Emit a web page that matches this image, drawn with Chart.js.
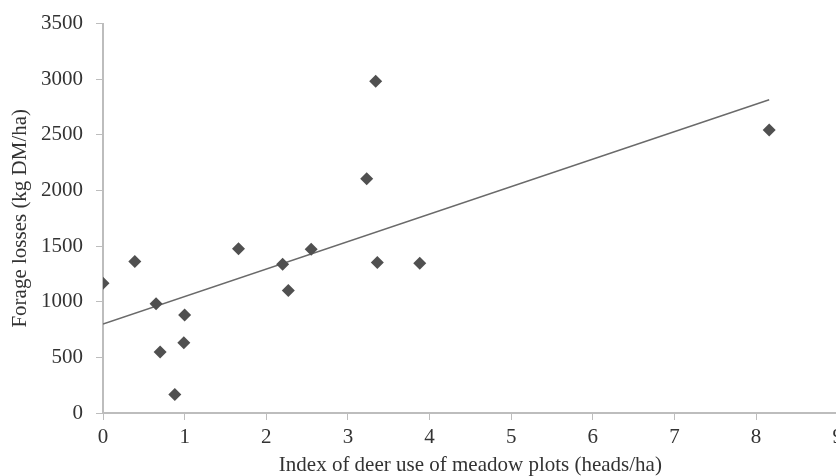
<!DOCTYPE html>
<html>
<head>
<meta charset="utf-8">
<script src="https://cdn.jsdelivr.net/npm/chart.js@4/dist/chart.umd.min.js"></script>
<style>
  html, body { margin: 0; padding: 0; background: #fff; overflow: hidden; }
  #wrap { width: 850px; height: 476px; }
</style>
</head>
<body>
<div id="wrap"><canvas id="chart" width="850" height="476"></canvas></div>
<script>
'use strict';

// deer use index (heads/ha) and forage losses (kg DM/ha)
const deerIndex  = [0, 0.39, 0.65, 0.70, 0.88, 0.99, 1.00, 1.66, 2.20, 2.27, 2.55, 3.23, 3.34, 3.36, 3.88, 8.16];
const forageLoss = [1167, 1361, 981, 549, 166, 631, 881, 1475, 1337, 1101, 1472, 2106, 2981, 1352, 1346, 2543];

// linear trend end points
const trendX = [0, 8.16];
const trendY = [800, 2815];

const xTicks = [0, 1, 2, 3, 4, 5, 6, 7, 8, 9];
const yTicks = [0, 500, 1000, 1500, 2000, 2500, 3000, 3500];

const textColor = '#333';
const axisColor = '#bdbdbd';
const fontFamily = "'Liberation Serif', 'Times New Roman', serif";
const tickFont = {family: fontFamily, size: 21, lineHeight: 1};
const titleFont = {family: fontFamily, size: 21, lineHeight: 1};

const points = deerIndex.map((x, i) => ({x: x, y: forageLoss[i]}));
const trend = trendX.map((x, i) => ({x: x, y: trendY[i]}));

new Chart(document.getElementById('chart'), {
  type: 'scatter',
  data: {
    datasets: [{
      label: 'Forage losses',
      data: points,
      pointStyle: 'rectRot',
      pointRadius: 6.5,
      backgroundColor: '#505050',
      borderColor: '#505050',
      borderWidth: 0
    }, {
      type: 'line',
      label: 'Trend',
      data: trend,
      borderColor: '#6a6a6a',
      borderWidth: 1.5,
      pointRadius: 0,
      fill: false
    }]
  },
  options: {
    responsive: false,
    animation: false,
    layout: {padding: {left: 8, right: 9, top: 22, bottom: 0}},
    plugins: {legend: {display: false}, tooltip: {enabled: false}},
    scales: {
      x: {
        type: 'linear',
        min: xTicks[0],
        max: xTicks[xTicks.length - 1],
        afterBuildTicks: axis => { axis.ticks = xTicks.map(v => ({value: v})); },
        ticks: {color: textColor, font: tickFont, padding: 7, maxRotation: 0, callback: v => String(v)},
        grid: {drawOnChartArea: false, drawTicks: true, tickLength: 7, color: axisColor},
        border: {color: axisColor, width: 2},
        title: {
          display: true,
          text: 'Index of deer use of meadow plots (heads/ha)',
          color: textColor,
          font: titleFont,
          padding: {top: 0, bottom: 0}
        }
      },
      y: {
        type: 'linear',
        min: yTicks[0],
        max: yTicks[yTicks.length - 1],
        afterBuildTicks: axis => { axis.ticks = yTicks.map(v => ({value: v})); },
        ticks: {color: textColor, font: tickFont, padding: 13, callback: v => String(v)},
        grid: {drawOnChartArea: false, drawTicks: true, tickLength: 7, color: axisColor},
        border: {color: axisColor, width: 2},
        title: {
          display: true,
          text: 'Forage losses (kg DM/ha)',
          color: textColor,
          font: titleFont,
          padding: {top: 2, bottom: -3}
        }
      }
    }
  }
});
</script>
</body>
</html>
